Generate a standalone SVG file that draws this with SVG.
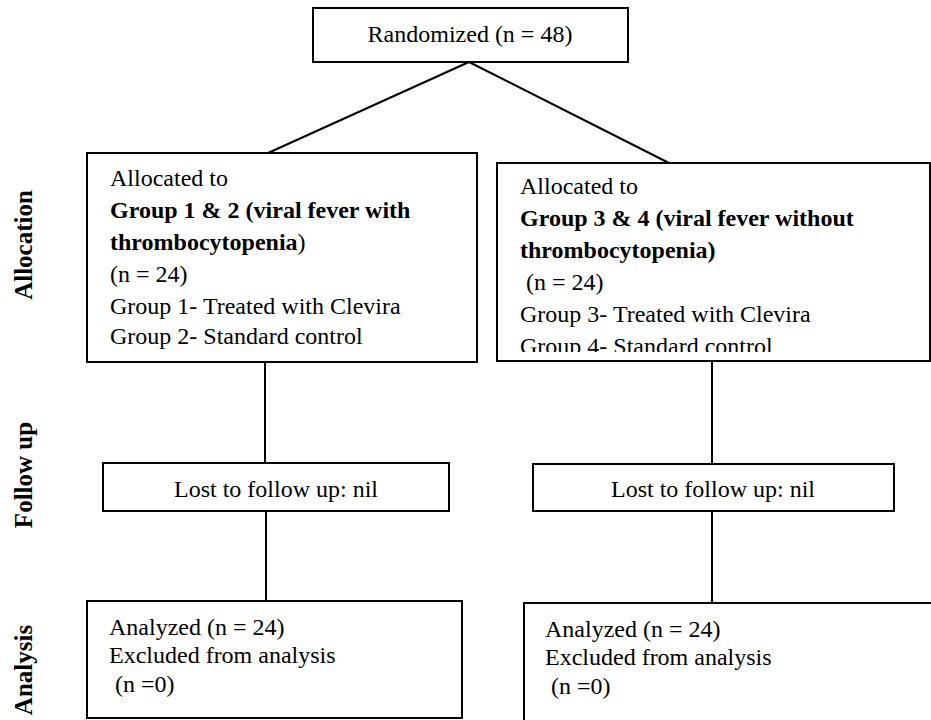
<svg xmlns="http://www.w3.org/2000/svg" width="931" height="720" viewBox="0 0 931 720">
<style>
.box{fill:#fff;stroke:#000;stroke-width:2}
.t{font-family:"Liberation Serif","Times New Roman",serif;font-size:24px;fill:#000}
.b{font-weight:bold}
.c{text-anchor:middle}
.lab{font-family:"Liberation Serif","Times New Roman",serif;font-size:25px;font-weight:bold;fill:#000;text-anchor:middle}
.ln{stroke:#000;stroke-width:2;fill:none}
</style>
<defs>
<clipPath id="clipR"><rect x="498" y="164" width="431" height="188"/></clipPath>
</defs>
<rect width="931" height="720" fill="#fff"/>
<g id="connectors">
<line class="ln" x1="469" y1="62" x2="268" y2="153"/>
<line class="ln" x1="469" y1="62" x2="669" y2="163"/>
<line class="ln" x1="265" y1="363" x2="265" y2="463"/>
<line class="ln" x1="266" y1="511" x2="266" y2="601"/>
<line class="ln" x1="712" y1="362" x2="712" y2="464"/>
<line class="ln" x1="712" y1="511" x2="712" y2="603"/>
</g>
<g id="side-labels">
<text class="lab" transform="translate(32,245) rotate(-90)">Allocation</text>
<text class="lab" transform="translate(32,475) rotate(-90)">Follow up</text>
<text class="lab" transform="translate(32,670) rotate(-90)">Analysis</text>
</g>
<g id="randomized">
<rect class="box" x="313" y="8" width="315" height="54"/>
<text class="t c" x="470" y="42">Randomized (n = 48)</text>
</g>
<g id="alloc-left">
<rect class="box" x="87" y="153" width="390" height="209"/>
<text class="t" x="110" y="186">Allocated to</text>
<text class="t b" x="110" y="218">Group 1 &amp; 2 (viral fever with</text>
<text class="t b" x="110" y="250">thrombocytopenia<tspan font-weight="normal">)</tspan></text>
<text class="t" x="110" y="282">(n = 24)</text>
<text class="t" x="110" y="314">Group 1- Treated with Clevira</text>
<text class="t" x="110" y="344">Group 2- Standard control</text>
</g>
<g id="alloc-right">
<rect class="box" x="497" y="163" width="433" height="198"/>
<g clip-path="url(#clipR)">
<text class="t" x="520" y="194">Allocated to</text>
<text class="t b" x="520" y="226">Group 3 &amp; 4 (viral fever without</text>
<text class="t b" x="520" y="258">thrombocytopenia)</text>
<text class="t" x="526" y="290">(n = 24)</text>
<text class="t" x="520" y="322">Group 3- Treated with Clevira</text>
<text class="t" x="520" y="354">Group 4- Standard control</text>
</g>
</g>
<g id="lost-left">
<rect class="box" x="103" y="463" width="346" height="48"/>
<text class="t c" x="276" y="497">Lost to follow up: nil</text>
</g>
<g id="lost-right">
<rect class="box" x="533" y="464" width="361" height="47"/>
<text class="t c" x="713" y="497">Lost to follow up: nil</text>
</g>
<g id="analysis-left">
<rect class="box" x="87" y="601" width="375" height="117"/>
<text class="t" x="109" y="635">Analyzed (n = 24)</text>
<text class="t" x="109" y="663">Excluded from analysis</text>
<text class="t" x="115" y="692">(n =0)</text>
</g>
<g id="analysis-right">
<rect class="box" x="524" y="603" width="420" height="130"/>
<text class="t" x="545" y="637">Analyzed (n = 24)</text>
<text class="t" x="545" y="665">Excluded from analysis</text>
<text class="t" x="551" y="694">(n =0)</text>
</g>
</svg>
